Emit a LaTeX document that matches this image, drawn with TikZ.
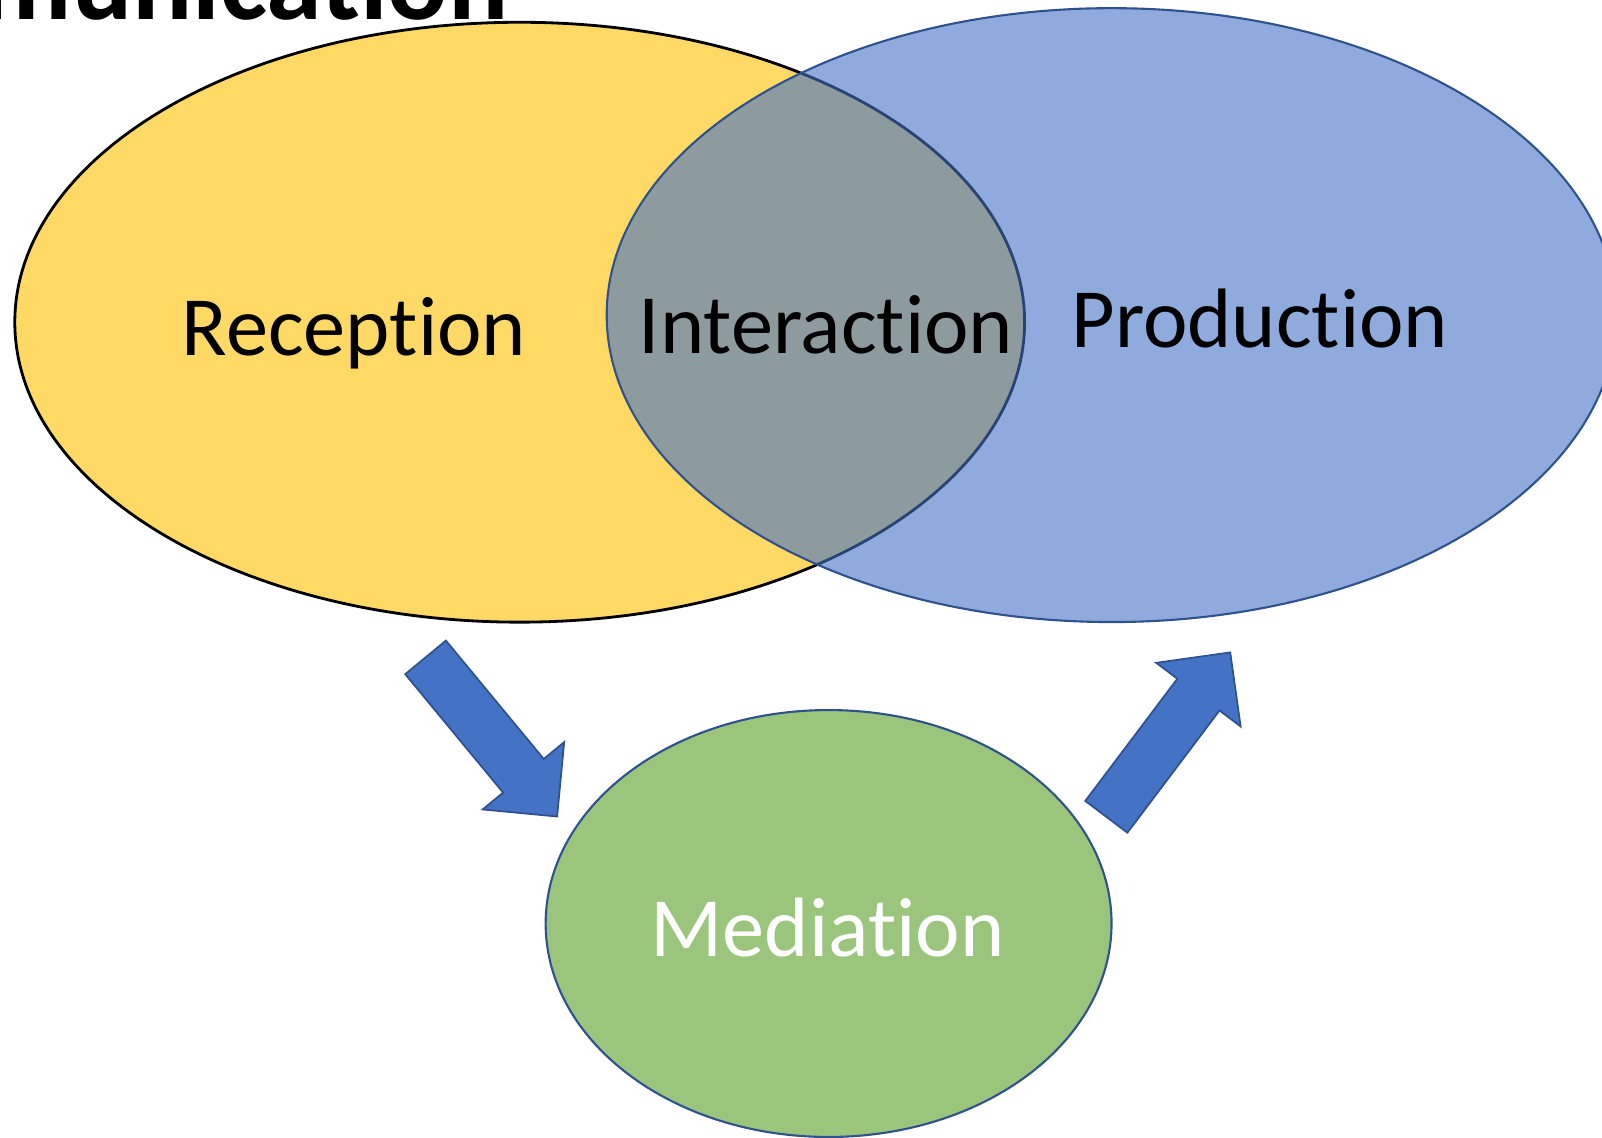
\documentclass[tikz,border=0pt]{standalone}
\usepackage{fontspec}
\setmainfont{Carlito}[RawFeature={-liga}]
\usetikzlibrary{shapes.geometric,shapes.arrows,calc}
\definecolor{recyellow}{HTML}{FFD966}
\definecolor{prodblue}{HTML}{4472C4}
\definecolor{edgeblue}{HTML}{2F528F}
\definecolor{medgreen}{HTML}{9BC47D}
\tikzstyle{bubble}=[ellipse, inner sep=0pt, line width=1.2pt]
\tikzstyle{reception}=[bubble, draw=black, line width=1.6pt, fill=recyellow,
  minimum width=20.2cm, minimum height=12cm]
\tikzstyle{production}=[bubble, draw=edgeblue, fill=prodblue, fill opacity=0.6,
  minimum width=20.2cm, minimum height=12.28cm]
\tikzstyle{mediation}=[bubble, draw=edgeblue, fill=medgreen,
  minimum width=11.32cm, minimum height=8.54cm]
\tikzstyle{word}=[anchor=base, inner sep=0pt, font=\fontsize{48}{56}\selectfont]
\tikzstyle{fatarrow}=[single arrow, draw=edgeblue, fill=prodblue, line width=1pt,
  inner xsep=0pt, inner ysep=0.51cm, minimum width=2.08cm,
  single arrow head extend=0.53cm, single arrow tip angle=90]
\newcommand{\blockarrow}[2]{%
  \path let \p1=($(#2)-(#1)$), \n1={atan2(\y1,\x1)}, \n2={veclen(\x1,\y1)} in
    node [fatarrow, anchor=tail, rotate=\n1, minimum height=\n2] at (#1) {};}

\begin{document}
\begin{tikzpicture}[x=0.02cm, y=-0.02cm]
  \useasboundingbox (0,0) rectangle (1602,1137);
  \clip (0,0) rectangle (1602,1137);

  % Draw diagram elements
  \node (title) [anchor=base east, inner sep=0pt,
    font=\bfseries\fontsize{64}{70}\selectfont] at (509,19.6) {Communication};
  \node (eRec) [reception] at (519.7,322.2) {};
  \node (eProd) [production] at (1111.6,315.1) {};
  \node (eMed) [mediation] at (828.6,923.5) {};

  \node (tRec) [word] at (354,355.5) {Reception};
  \node (tInt) [word] at (826,353.5) {Interaction};
  \node (tProd) [word] at (1259.8,347.4) {Production};
  \node (tMed) [word, text=white] at (827.6,956.3) {Mediation};

  % Draw arrows between elements
  \coordinate (a1tail) at (425,656.7);
  \coordinate (a1tip) at (556.7,816);
  \coordinate (a2tail) at (1105.8,817.5);
  \coordinate (a2tip) at (1230,652.7);
  \blockarrow{a1tail}{a1tip}
  \blockarrow{a2tail}{a2tip}
\end{tikzpicture}
\end{document}
